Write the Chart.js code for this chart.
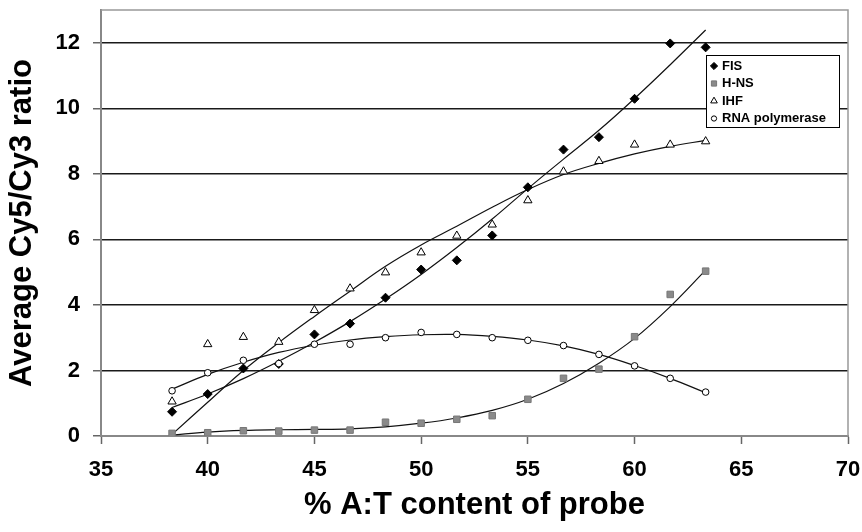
<!DOCTYPE html>
<html><head><meta charset="utf-8">
<script src="https://cdn.jsdelivr.net/npm/chart.js@4/dist/chart.umd.min.js"></script>
<style>html,body{margin:0;padding:0;background:#fff}canvas{display:block}</style>
</head><body>
<canvas id="c" width="862" height="532"></canvas>
<script>
// ---- data ----
const xPct = [38.33, 40, 41.67, 43.33, 45, 46.67, 48.33, 50, 51.67, 53.33, 55, 56.67, 58.33, 60, 61.67, 63.33];
const fis  = [0.74, 1.28, 2.06, 2.2, 3.1, 3.43, 4.22, 5.08, 5.36, 6.12, 7.59, 8.74, 9.12, 10.29, 11.98, 11.86];
const hns  = [0.08, 0.1, 0.16, 0.15, 0.18, 0.18, 0.42, 0.39, 0.51, 0.62, 1.12, 1.76, 2.04, 3.03, 4.32, 5.03];
const ihf  = [1.05, 2.8, 3.02, 2.87, 3.84, 4.5, 4.99, 5.6, 6.11, 6.45, 7.19, 8.07, 8.39, 8.89, 8.89, 8.99];
const rnap = [1.38, 1.93, 2.31, 2.21, 2.8, 2.8, 3.0, 3.16, 3.1, 3.0, 2.92, 2.76, 2.49, 2.14, 1.76, 1.34];
// trend lines
const fisTrend  = [0.87, 1.28, 1.75, 2.28, 2.86, 3.49, 4.18, 4.93, 5.75, 6.62, 7.55, 8.45, 9.33, 10.3, 11.33, 12.39];
const hnsTrend  = [0.03, 0.12, 0.17, 0.19, 0.2, 0.22, 0.28, 0.39, 0.55, 0.78, 1.12, 1.6, 2.22, 2.98, 3.95, 5.06];
const ihfTrend  = [0.05, 1.03, 2.0, 2.85, 3.65, 4.42, 5.18, 5.83, 6.4, 6.98, 7.52, 7.98, 8.32, 8.61, 8.84, 9.02];
const rnapTrend = [1.43, 1.88, 2.25, 2.55, 2.77, 2.93, 3.03, 3.09, 3.1, 3.04, 2.93, 2.75, 2.49, 2.15, 1.76, 1.32];
const seriesNames = ['FIS', 'H-NS', 'IHF', 'RNA polymerase'];
const xTitle = '% A:T content of probe';
const yTitle = 'Average Cy5/Cy3 ratio';

const FONT = '"Liberation Sans", Arial, Helvetica, sans-serif';
const pts = ys => xPct.map((x, i) => ({x, y: ys[i]}));

const markerStyles = [
  {pointStyle: 'rectRot', radius: 4.5, bg: '#000', border: '#000', bw: 1},
  {pointStyle: 'rect', radius: 4.6, bg: '#8a8a8a', border: '#777', bw: 1},
  {pointStyle: 'triangle', radius: 4.8, bg: '#fff', border: '#000', bw: 1},
  {pointStyle: 'circle', radius: 3.3, bg: '#fff', border: '#000', bw: 1}
];
const values = [fis, hns, ihf, rnap];
const trends = [fisTrend, hnsTrend, ihfTrend, rnapTrend];
const orders = [4, 3, 2, 1];

const datasets = [];
values.forEach((v, i) => {
  const m = markerStyles[i];
  datasets.push({
    label: seriesNames[i], data: pts(v), showLine: false,
    pointStyle: m.pointStyle, pointRadius: m.radius, pointBackgroundColor: m.bg,
    pointBorderColor: m.border, pointBorderWidth: m.bw, order: orders[i]
  });
});
trends.forEach((t, i) => {
  datasets.push({
    label: seriesNames[i] + ' trend', data: pts(t), showLine: true, pointRadius: 0,
    borderColor: '#111', borderWidth: 1.2, tension: 0.4, fill: false, order: 6
  });
});

const framePlugin = {
  id: 'frame',
  beforeDatasetsDraw(chart) {
    const {ctx, chartArea: a} = chart;
    ctx.save();
    ctx.strokeStyle = '#999'; ctx.lineWidth = 1.5;
    ctx.beginPath();
    ctx.moveTo(a.left, a.top); ctx.lineTo(a.right, a.top); ctx.lineTo(a.right, a.bottom);
    ctx.stroke();
    ctx.restore();
  }
};
const legendPlugin = {
  id: 'boxLegend',
  afterDatasetsDraw(chart) {
    const {ctx} = chart;
    const bx = 706, by = 55, bw = 133, bh = 72;
    ctx.save();
    ctx.fillStyle = '#fff'; ctx.fillRect(bx, by, bw, bh);
    ctx.strokeStyle = '#000'; ctx.lineWidth = 1; ctx.strokeRect(bx + 0.5, by + 0.5, bw, bh);
    ctx.font = 'bold 13px ' + FONT; ctx.textBaseline = 'middle'; ctx.textAlign = 'left';
    seriesNames.forEach((name, i) => {
      const y = by + 11 + i * 17.5;
      const m = markerStyles[i];
      ctx.fillStyle = m.bg; ctx.strokeStyle = m.border; ctx.lineWidth = 1;
      Chart.helpers.drawPoint(ctx, {pointStyle: m.pointStyle, radius: m.radius * 0.8, borderWidth: 1, rotation: 0}, bx + 8, y);
      ctx.fillStyle = '#000';
      ctx.fillText(name, bx + 16, y);
    });
    ctx.restore();
  }
};

new Chart(document.getElementById('c'), {
  type: 'scatter',
  data: {datasets},
  options: {
    responsive: false, animation: false, devicePixelRatio: 1,
    layout: {padding: {left: 0, right: 14, top: 10, bottom: 0}},
    plugins: {legend: {display: false}, tooltip: {enabled: false}},
    scales: {
      x: {
        type: 'linear', min: 35, max: 70,
        afterFit: s => { s.height = 96; s.paddingLeft = 0; s.paddingRight = 0; },
        ticks: {stepSize: 5, color: '#000', font: {family: FONT, size: 22, weight: 'bold'}, padding: 13, maxRotation: 0},
        grid: {drawOnChartArea: false, drawTicks: true, tickLength: 8, tickColor: '#666', tickWidth: 1.5},
        border: {color: '#888', width: 2},
        title: {display: true, text: xTitle, color: '#000', font: {family: FONT, size: 31, weight: 'bold'}, padding: {top: 0, bottom: 8}}
      },
      y: {
        type: 'linear', min: 0, max: 13,
        afterFit: s => { s.width = 101; s.paddingTop = 0; s.paddingBottom = 0; },
        ticks: {stepSize: 2, includeBounds: false, color: '#000', font: {family: FONT, size: 22, weight: 'bold'}, padding: 13},
        grid: {color: c => (c.tick && c.tick.value === 0) ? '#888' : '#1a1a1a', lineWidth: 1.5, tickLength: 8, tickColor: '#666', tickWidth: 1.5},
        border: {color: '#888', width: 2},
        title: {display: true, text: yTitle, color: '#000', font: {family: FONT, size: 31, weight: 'bold'}, padding: {top: 4, bottom: 0}}
      }
    }
  },
  plugins: [framePlugin, legendPlugin]
});
</script>
</body></html>
